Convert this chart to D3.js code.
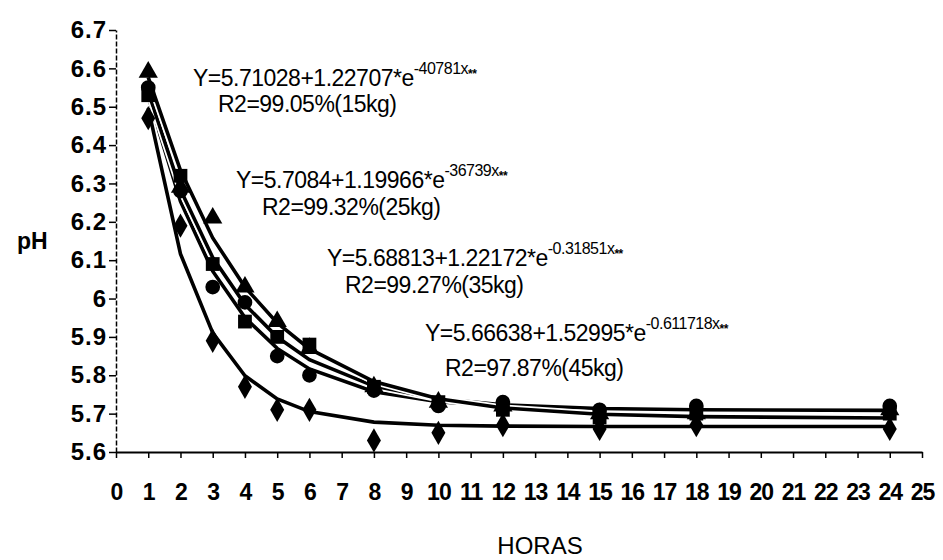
<!DOCTYPE html>
<html>
<head>
<meta charset="utf-8">
<script src="https://cdn.jsdelivr.net/npm/d3@7"></script>
<style>
  body { margin: 0; background: #fff; }
  svg { display: block; font-family: "Liberation Sans", Arial, sans-serif; }
</style>
</head>
<body>
<svg id="chart" width="943" height="560"></svg>
<script>
// pH over hours, four loads
const hours = [1, 2, 3, 4, 5, 6, 8, 10, 12, 15, 18, 24]
const phTriangle = [6.59, 6.29, 6.21, 6.03, 5.94, 5.87, 5.77, 5.73, 5.72, 5.70, 5.70, 5.71]
const phSquare   = [6.53, 6.32, 6.09, 5.94, 5.90, 5.88, 5.77, 5.73, 5.71, 5.69, 5.70, 5.70]
const phCircle   = [6.55, 6.28, 6.03, 5.99, 5.85, 5.80, 5.76, 5.72, 5.73, 5.71, 5.72, 5.72]
const phDiamond  = [6.47, 6.19, 5.89, 5.77, 5.71, 5.71, 5.63, 5.65, 5.67, 5.66, 5.67, 5.66]

// fitted models Y = a + b*e^(-k x)
const fitA = [5.71028, 5.7084, 5.68813, 5.66638]
const fitB = [1.22707, 1.19966, 1.22172, 1.52995]
const fitK = [0.40781, 0.36739, 0.31851, 0.611718]
const eqMain = ["Y=5.71028+1.22707*e", "Y=5.7084+1.19966*e", "Y=5.68813+1.22172*e", "Y=5.66638+1.52995*e"]
const eqExp = ["-40781x", "-36739x", "-0.31851x", "-0.611718x"]
const eqR2 = ["R2=99.05%(15kg)", "R2=99.32%(25kg)", "R2=99.27%(35kg)", "R2=97.87%(45kg)"]

const yTicks = [5.6, 5.7, 5.8, 5.9, 6.0, 6.1, 6.2, 6.3, 6.4, 6.5, 6.6, 6.7]
const xTicks = d3.range(0, 26)

const svg = d3.select("#chart")

let x = d3.scaleLinear().domain([0, 25]).range([116, 922])
let y = d3.scaleLinear().domain([5.6, 6.7]).range([452, 30])

// axes
let yAxis = svg.append("g")
  .attr("transform", "translate(116,0)")
  .call(d3.axisLeft(y).tickValues(yTicks).tickSize(7).tickSizeOuter(0)
    .tickFormat(d => d === 6 ? "6" : d3.format(".1f")(d)))
yAxis.select(".domain").attr("stroke-width", 1.5).attr("stroke-dasharray", "5,2")
yAxis.selectAll(".tick line").attr("stroke-width", 1.5)
yAxis.selectAll(".tick text")
  .attr("x", -9)
  .style("font-size", "24px").style("font-weight", "bold").style("letter-spacing", "1px")
  .attr("fill", "#000")

let xAxis = svg.append("g")
  .attr("transform", "translate(0,452)")
  .call(d3.axisBottom(x).tickValues(xTicks).tickSize(6).tickSizeOuter(0))
xAxis.select(".domain").attr("stroke-width", 2)
xAxis.selectAll(".tick line").attr("stroke-width", 1.5)
xAxis.selectAll(".tick text")
  .attr("y", 32)
  .style("font-size", "23px").style("font-weight", "bold").style("letter-spacing", "-1px")
  .attr("fill", "#000")

svg.append("text").attr("x", 17).attr("y", 249)
  .style("font-size", "23px").style("font-weight", "bold").text("pH")
svg.append("text").attr("x", 540).attr("y", 554).attr("text-anchor", "middle")
  .style("font-size", "24px").text("HORAS")

// fitted curves through predicted values
let line = d3.line().x(d => x(d[0])).y(d => y(d[1]))
fitA.forEach((a, i) => {
  let pts = hours.map(h => [h, a + fitB[i] * Math.exp(-fitK[i] * h)])
  svg.append("path").datum(pts).attr("d", line)
    .attr("fill", "none").attr("stroke", "#fff").attr("stroke-width", 7)
  svg.append("path").datum(pts).attr("d", line)
    .attr("fill", "none").attr("stroke", "#000").attr("stroke-width", 3.6)
})

// markers
let series = [
  { v: phDiamond, sym: d3.symbolDiamond, size: 170 },
  { v: phCircle, sym: d3.symbolCircle, size: 170 },
  { v: phSquare, sym: d3.symbolSquare, size: 190 },
  { v: phTriangle, sym: d3.symbolTriangle, size: 160 }
]
series.forEach(s => {
  svg.append("g").selectAll("path")
    .data(hours.map((h, j) => [h, s.v[j]]))
    .enter().append("path")
    .attr("transform", d => `translate(${x(d[0])},${y(d[1])})`)
    .attr("d", d3.symbol(s.sym, s.size))
    .attr("fill", "#000")
})

// equation labels
const labelPos = [[193, 86, 218, 112], [236, 188, 262, 215], [327, 266, 345, 293], [425, 341, 445, 376]]
eqMain.forEach((t, i) => {
  let p = labelPos[i]
  let tx = svg.append("text").attr("x", p[0]).attr("y", p[1])
    .style("font-size", "23px").style("letter-spacing", "-0.5px")
  tx.append("tspan").text(t)
  tx.append("tspan").attr("dy", -12).style("font-size", "16px").text(eqExp[i])
  tx.append("tspan").attr("dy", 4).style("font-size", "12px").style("font-weight", "bold").text("**")
  svg.append("text").attr("x", p[2]).attr("y", p[3])
    .style("font-size", "23px").style("letter-spacing", "-0.5px")
    .text(eqR2[i])
})
</script>
</body>
</html>
